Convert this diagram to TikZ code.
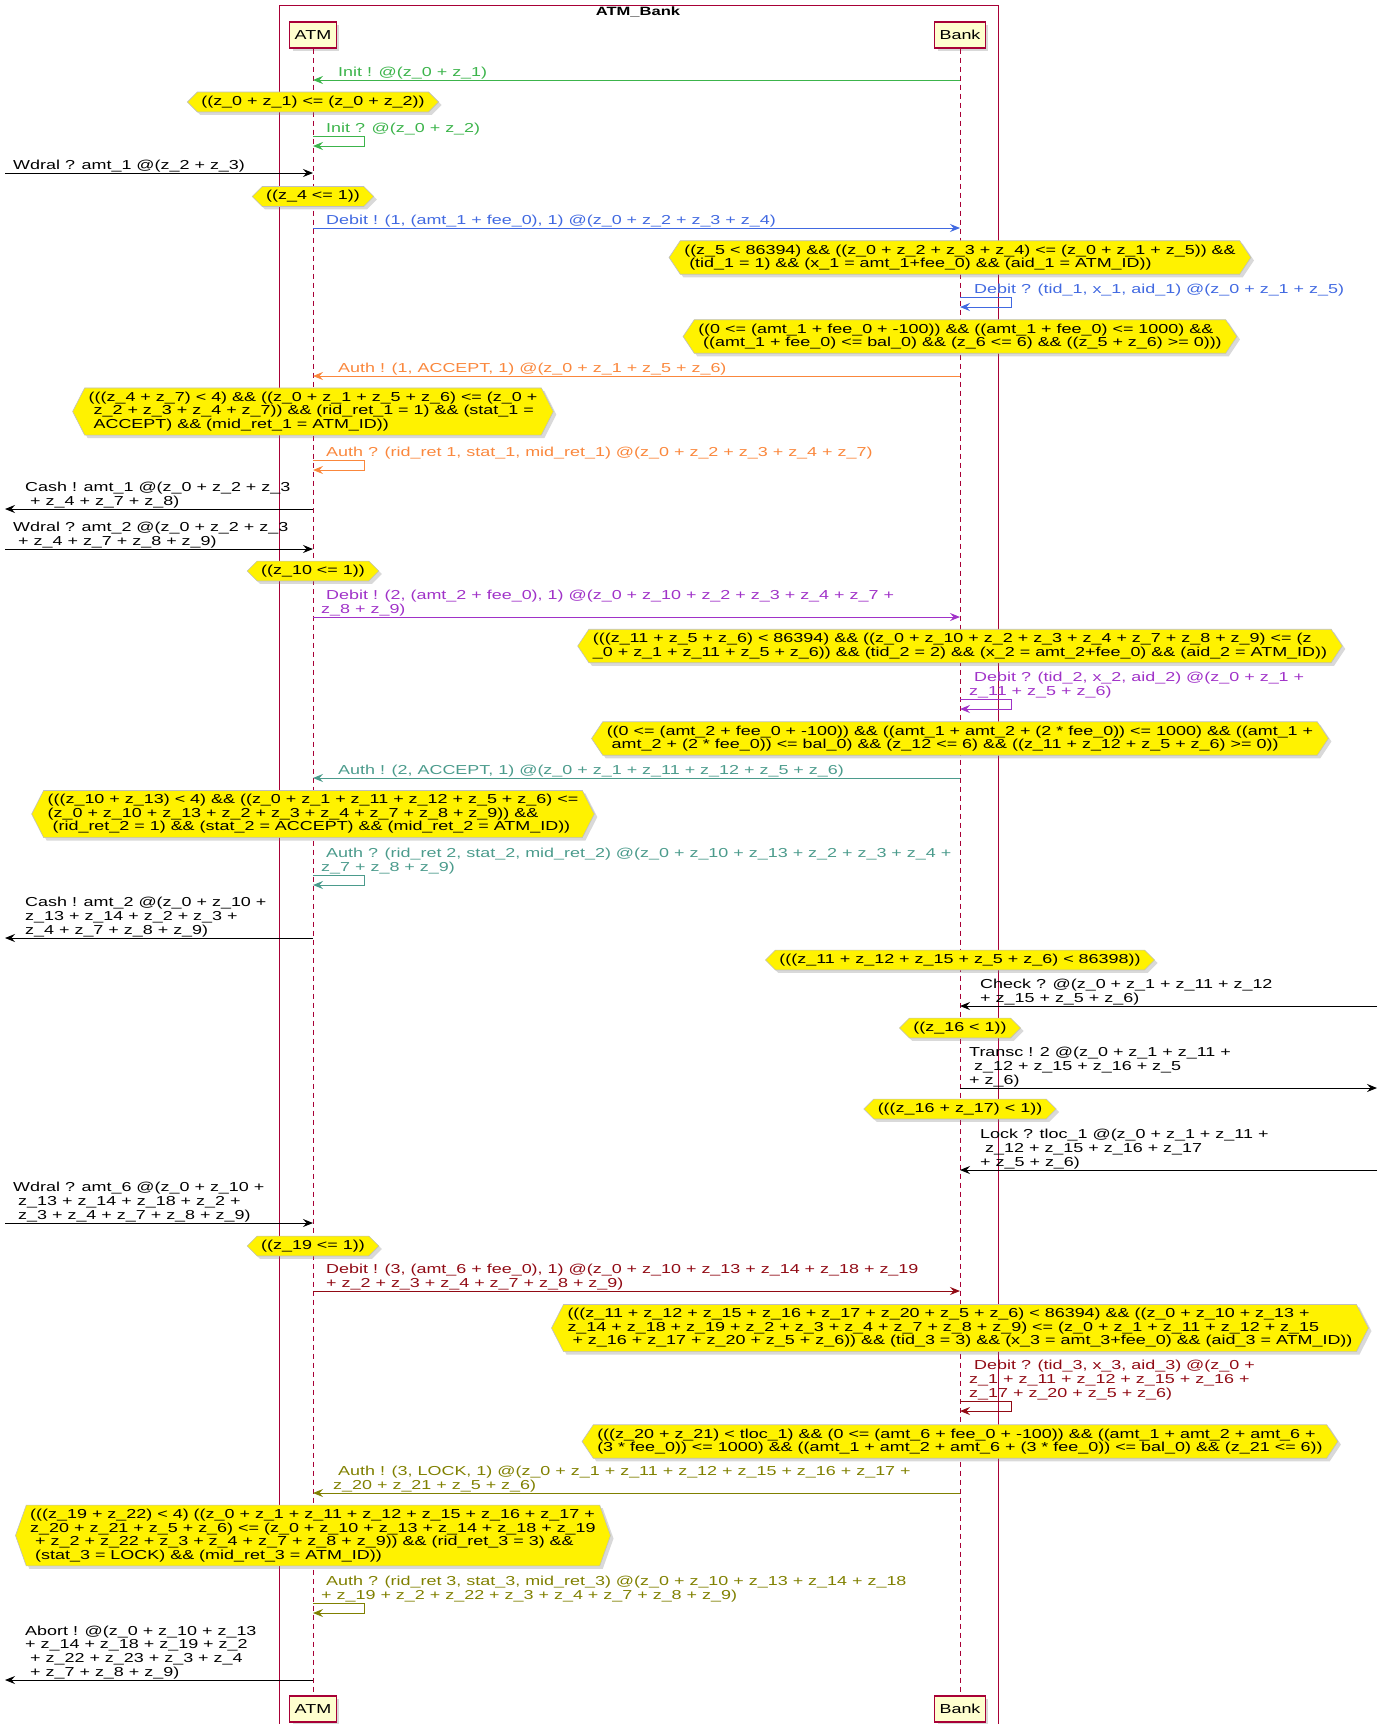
\documentclass[tikz,border=0pt]{standalone}
\usepackage{fontspec}
\setmainfont{Liberation Sans}[FakeStretch=1.38]
\usetikzlibrary{arrows.meta, shapes.symbols, shadows}
\definecolor{umlred}{HTML}{A80036}
\definecolor{umlhead}{HTML}{FEFECE}
\definecolor{msggreen}{RGB}{60,180,75}
\definecolor{msgblue}{RGB}{65,105,225}
\definecolor{msgorange}{RGB}{250,135,60}
\definecolor{msgpurple}{RGB}{160,50,200}
\definecolor{msgteal}{RGB}{75,155,140}
\definecolor{msgdarkred}{RGB}{145,10,20}
\definecolor{msgolive}{RGB}{128,128,0}
\newcommand\msgfont{\fontsize{13}{13.6}\selectfont}
\catcode`\_=12
\begin{document}
\begin{tikzpicture}[x=1pt, y=-1pt,
    umlshadow/.style={drop shadow={opacity=0.3, shadow xshift=3pt, shadow yshift=-3pt}},
    head/.style={rectangle, draw=umlred, fill=umlhead, line width=1.2pt, minimum height=26pt, inner xsep=5pt, font=\fontsize{13}{15}\selectfont, umlshadow},
    lifeline/.style={umlred, dash pattern=on 5pt off 4pt, line width=0.9pt},
    hexnote/.style={signal, signal to=east and west, signal pointer angle=#1, fill=yellow, draw=black!25, line width=0.6pt, align=left, inner xsep=4pt, inner ysep=3.9pt, font=\msgfont, umlshadow},
    hexnote/.default=90,
    lbl/.style={anchor=south west, align=left, inner sep=0pt, font=\msgfont},
    msg/.style={-{Stealth[length=10pt, width=8pt, inset=3.5pt]}, line width=1pt}
  ]
  \useasboundingbox (0,0) rectangle (1382,1724);

  % group box and participants
  \draw[umlred, line width=0.8pt] (279,5.5) rectangle (998,1730);
  \node[font=\bfseries\fontsize{12}{14}\selectfont] (title) at (638,12) {ATM_Bank};
  \node[head] (atmT) at (313,35) {ATM};
  \node[head] (bankT) at (960,35) {Bank};
  \node[head] (atmB) at (313,1709) {ATM};
  \node[head] (bankB) at (960,1709) {Bank};
  \draw[lifeline] (atmT) -- (atmB);
  \draw[lifeline] (bankT) -- (bankB);
  \coordinate (edgeL) at (5,0);
  \coordinate (edgeR) at (1377,0);

  % first withdrawal
  \coordinate (m1) at (0,80);
  \node[lbl, text=msggreen] (l1) at (333,79) {\ Init ! @(z_0 + z_1)};
  \draw[msg, msggreen] (bankT |- m1) -- (atmT |- m1);
  \node[hexnote] (h1) at (atmT |- 0,102) {((z_0 + z_1) <= (z_0 + z_2))};
  \coordinate (m3) at (0,136);
  \node[lbl, text=msggreen] (l3) at (321,135) {\ Init ? @(z_0 + z_2)};
  \draw[msg, msggreen] (atmT |- m3) -- ++(51,0) -- ++(0,10) -- ++(-51,0);
  \coordinate (m4) at (0,173);
  \node[lbl] (l4) at (13,172) {Wdral ? amt_1 @(z_2 + z_3)};
  \draw[msg] (edgeL |- m4) -- (atmT |- m4);
  \node[hexnote] (h2) at (atmT |- 0,196.5) {((z_4 <= 1))};
  \coordinate (m6) at (0,228);
  \node[lbl, text=msgblue] (l6) at (321,227) {\ Debit ! (1, (amt_1 + fee_0), 1) @(z_0 + z_2 + z_3 + z_4)};
  \draw[msg, msgblue] (atmT |- m6) -- (bankT |- m6);
  \node[hexnote=112.6] (h3) at (bankT |- 0,257.5) {((z_5 < 86394) \&\& ((z_0 + z_2 + z_3 + z_4) <= (z_0 + z_1 + z_5)) \&\&\\\ (tid_1 = 1) \&\& (x_1 = amt_1+fee_0) \&\& (aid_1 = ATM_ID))};
  \coordinate (m8) at (0,297);
  \node[lbl, text=msgblue] (l8) at (969,296) {\ Debit ? (tid_1, x_1, aid_1) @(z_0 + z_1 + z_5)};
  \draw[msg, msgblue] (bankT |- m8) -- ++(51,0) -- ++(0,10) -- ++(-51,0);
  \node[hexnote=112.6] (h4) at (bankT |- 0,336.5) {((0 <= (amt_1 + fee_0 + -100)) \&\& ((amt_1 + fee_0) <= 1000) \&\&\\\ ((amt_1 + fee_0) <= bal_0) \&\& (z_6 <= 6) \&\& ((z_5 + z_6) >= 0)))};
  \coordinate (m10) at (0,376);
  \node[lbl, text=msgorange] (l10) at (333,375) {\ Auth ! (1, ACCEPT, 1) @(z_0 + z_1 + z_5 + z_6)};
  \draw[msg, msgorange] (bankT |- m10) -- (atmT |- m10);
  \node[hexnote=126] (h5) at (atmT |- 0,411.5) {(((z_4 + z_7) < 4) \&\& ((z_0 + z_1 + z_5 + z_6) <= (z_0 +\\\ z_2 + z_3 + z_4 + z_7)) \&\& (rid_ret_1 = 1) \&\& (stat_1 =\\\ ACCEPT) \&\& (mid_ret_1 = ATM_ID))};
  \coordinate (m12) at (0,460);
  \node[lbl, text=msgorange] (l12) at (321,459) {\ Auth ? (rid_ret 1, stat_1, mid_ret_1) @(z_0 + z_2 + z_3 + z_4 + z_7)};
  \draw[msg, msgorange] (atmT |- m12) -- ++(51,0) -- ++(0,10) -- ++(-51,0);
  \coordinate (m13) at (0,509);
  \node[lbl] (l13) at (25,508) {Cash ! amt_1 @(z_0 + z_2 + z_3\\\ + z_4 + z_7 + z_8)};
  \draw[msg] (atmT |- m13) -- (edgeL |- m13);

  % second withdrawal
  \coordinate (m14) at (0,549);
  \node[lbl] (l14) at (13,548) {Wdral ? amt_2 @(z_0 + z_2 + z_3\\\ + z_4 + z_7 + z_8 + z_9)};
  \draw[msg] (edgeL |- m14) -- (atmT |- m14);
  \node[hexnote] (h6) at (atmT |- 0,571) {((z_10 <= 1))};
  \coordinate (m16) at (0,617);
  \node[lbl, text=msgpurple] (l16) at (321,616) {\ Debit ! (2, (amt_2 + fee_0), 1) @(z_0 + z_10 + z_2 + z_3 + z_4 + z_7 +\\z_8 + z_9)};
  \draw[msg, msgpurple] (atmT |- m16) -- (bankT |- m16);
  \node[hexnote=112.6] (h7) at (bankT |- 0,646) {(((z_11 + z_5 + z_6) < 86394) \&\& ((z_0 + z_10 + z_2 + z_3 + z_4 + z_7 + z_8 + z_9) <= (z\\_0 + z_1 + z_11 + z_5 + z_6)) \&\& (tid_2 = 2) \&\& (x_2 = amt_2+fee_0) \&\& (aid_2 = ATM_ID))};
  \coordinate (m18) at (0,699);
  \node[lbl, text=msgpurple] (l18) at (969,698) {\ Debit ? (tid_2, x_2, aid_2) @(z_0 + z_1 +\\z_11 + z_5 + z_6)};
  \draw[msg, msgpurple] (bankT |- m18) -- ++(51,0) -- ++(0,10) -- ++(-51,0);
  \node[hexnote=112.6] (h8) at (bankT |- 0,738.5) {((0 <= (amt_2 + fee_0 + -100)) \&\& ((amt_1 + amt_2 + (2 * fee_0)) <= 1000) \&\& ((amt_1 +\\\ amt_2 + (2 * fee_0)) <= bal_0) \&\& (z_12 <= 6) \&\& ((z_11 + z_12 + z_5 + z_6) >= 0))};
  \coordinate (m20) at (0,778);
  \node[lbl, text=msgteal] (l20) at (333,777) {\ Auth ! (2, ACCEPT, 1) @(z_0 + z_1 + z_11 + z_12 + z_5 + z_6)};
  \draw[msg, msgteal] (bankT |- m20) -- (atmT |- m20);
  \node[hexnote=126] (h9) at (atmT |- 0,814) {(((z_10 + z_13) < 4) \&\& ((z_0 + z_1 + z_11 + z_12 + z_5 + z_6) <=\\(z_0 + z_10 + z_13 + z_2 + z_3 + z_4 + z_7 + z_8 + z_9)) \&\&\\\ (rid_ret_2 = 1) \&\& (stat_2 = ACCEPT) \&\& (mid_ret_2 = ATM_ID))};
  \coordinate (m22) at (0,875);
  \node[lbl, text=msgteal] (l22) at (321,874) {\ Auth ? (rid_ret 2, stat_2, mid_ret_2) @(z_0 + z_10 + z_13 + z_2 + z_3 + z_4 +\\z_7 + z_8 + z_9)};
  \draw[msg, msgteal] (atmT |- m22) -- ++(51,0) -- ++(0,10) -- ++(-51,0);
  \coordinate (m23) at (0,938);
  \node[lbl] (l23) at (25,937) {Cash ! amt_2 @(z_0 + z_10 +\\z_13 + z_14 + z_2 + z_3 +\\z_4 + z_7 + z_8 + z_9)};
  \draw[msg] (atmT |- m23) -- (edgeL |- m23);

  % bank side: check, transfer, lock
  \node[hexnote] (h10) at (bankT |- 0,960) {(((z_11 + z_12 + z_15 + z_5 + z_6) < 86398))};
  \coordinate (m25) at (0,1006);
  \node[lbl] (l25) at (980,1005) {Check ? @(z_0 + z_1 + z_11 + z_12\\+ z_15 + z_5 + z_6)};
  \draw[msg] (edgeR |- m25) -- (bankT |- m25);
  \node[hexnote] (h11) at (bankT |- 0,1028) {((z_16 < 1))};
  \coordinate (m27) at (0,1088);
  \node[lbl] (l27) at (969,1087) {Transc ! 2 @(z_0 + z_1 + z_11 +\\\ z_12 + z_15 + z_16 + z_5\\+ z_6)};
  \draw[msg] (bankT |- m27) -- (edgeR |- m27);
  \node[hexnote] (h12) at (bankT |- 0,1109) {(((z_16 + z_17) < 1))};
  \coordinate (m29) at (0,1170);
  \node[lbl] (l29) at (980,1169) {Lock ? tloc_1 @(z_0 + z_1 + z_11 +\\\ z_12 + z_15 + z_16 + z_17\\+ z_5 + z_6)};
  \draw[msg] (edgeR |- m29) -- (bankT |- m29);

  % third withdrawal
  \coordinate (m30) at (0,1223);
  \node[lbl] (l30) at (13,1222) {Wdral ? amt_6 @(z_0 + z_10 +\\\ z_13 + z_14 + z_18 + z_2 +\\\ z_3 + z_4 + z_7 + z_8 + z_9)};
  \draw[msg] (edgeL |- m30) -- (atmT |- m30);
  \node[hexnote] (h13) at (atmT |- 0,1246) {((z_19 <= 1))};
  \coordinate (m32) at (0,1291);
  \node[lbl, text=msgdarkred] (l32) at (321,1290) {\ Debit ! (3, (amt_6 + fee_0), 1) @(z_0 + z_10 + z_13 + z_14 + z_18 + z_19\\\ + z_2 + z_3 + z_4 + z_7 + z_8 + z_9)};
  \draw[msg, msgdarkred] (atmT |- m32) -- (bankT |- m32);
  \node[hexnote=126] (h14) at (bankT |- 0,1328) {(((z_11 + z_12 + z_15 + z_16 + z_17 + z_20 + z_5 + z_6) < 86394) \&\& ((z_0 + z_10 + z_13 +\\z_14 + z_18 + z_19 + z_2 + z_3 + z_4 + z_7 + z_8 + z_9) <= (z_0 + z_1 + z_11 + z_12 + z_15\\\ + z_16 + z_17 + z_20 + z_5 + z_6)) \&\& (tid_3 = 3) \&\& (x_3 = amt_3+fee_0) \&\& (aid_3 = ATM_ID))};
  \coordinate (m34) at (0,1401);
  \node[lbl, text=msgdarkred] (l34) at (969,1400) {\ Debit ? (tid_3, x_3, aid_3) @(z_0 +\\z_1 + z_11 + z_12 + z_15 + z_16 +\\z_17 + z_20 + z_5 + z_6)};
  \draw[msg, msgdarkred] (bankT |- m34) -- ++(51,0) -- ++(0,10) -- ++(-51,0);
  \node[hexnote=112.6] (h15) at (bankT |- 0,1441.5) {(((z_20 + z_21) < tloc_1) \&\& (0 <= (amt_6 + fee_0 + -100)) \&\& ((amt_1 + amt_2 + amt_6 +\\(3 * fee_0)) <= 1000) \&\& ((amt_1 + amt_2 + amt_6 + (3 * fee_0)) <= bal_0) \&\& (z_21 <= 6))};
  \coordinate (m36) at (0,1493);
  \node[lbl, text=msgolive] (l36) at (333,1492) {\ Auth ! (3, LOCK, 1) @(z_0 + z_1 + z_11 + z_12 + z_15 + z_16 + z_17 +\\z_20 + z_21 + z_5 + z_6)};
  \draw[msg, msgolive] (bankT |- m36) -- (atmT |- m36);
  \node[hexnote=141] (h16) at (atmT |- 0,1535.5) {(((z_19 + z_22) < 4) ((z_0 + z_1 + z_11 + z_12 + z_15 + z_16 + z_17 +\\z_20 + z_21 + z_5 + z_6) <= (z_0 + z_10 + z_13 + z_14 + z_18 + z_19\\\ + z_2 + z_22 + z_3 + z_4 + z_7 + z_8 + z_9)) \&\& (rid_ret_3 = 3) \&\&\\\ (stat_3 = LOCK) \&\& (mid_ret_3 = ATM_ID))};
  \coordinate (m38) at (0,1603);
  \node[lbl, text=msgolive] (l38) at (321,1602) {\ Auth ? (rid_ret 3, stat_3, mid_ret_3) @(z_0 + z_10 + z_13 + z_14 + z_18\\+ z_19 + z_2 + z_22 + z_3 + z_4 + z_7 + z_8 + z_9)};
  \draw[msg, msgolive] (atmT |- m38) -- ++(51,0) -- ++(0,10) -- ++(-51,0);
  \coordinate (m39) at (0,1680);
  \node[lbl] (l39) at (25,1679) {Abort ! @(z_0 + z_10 + z_13\\+ z_14 + z_18 + z_19 + z_2\\\ + z_22 + z_23 + z_3 + z_4\\\ + z_7 + z_8 + z_9)};
  \draw[msg] (atmT |- m39) -- (edgeL |- m39);
\end{tikzpicture}
\end{document}
